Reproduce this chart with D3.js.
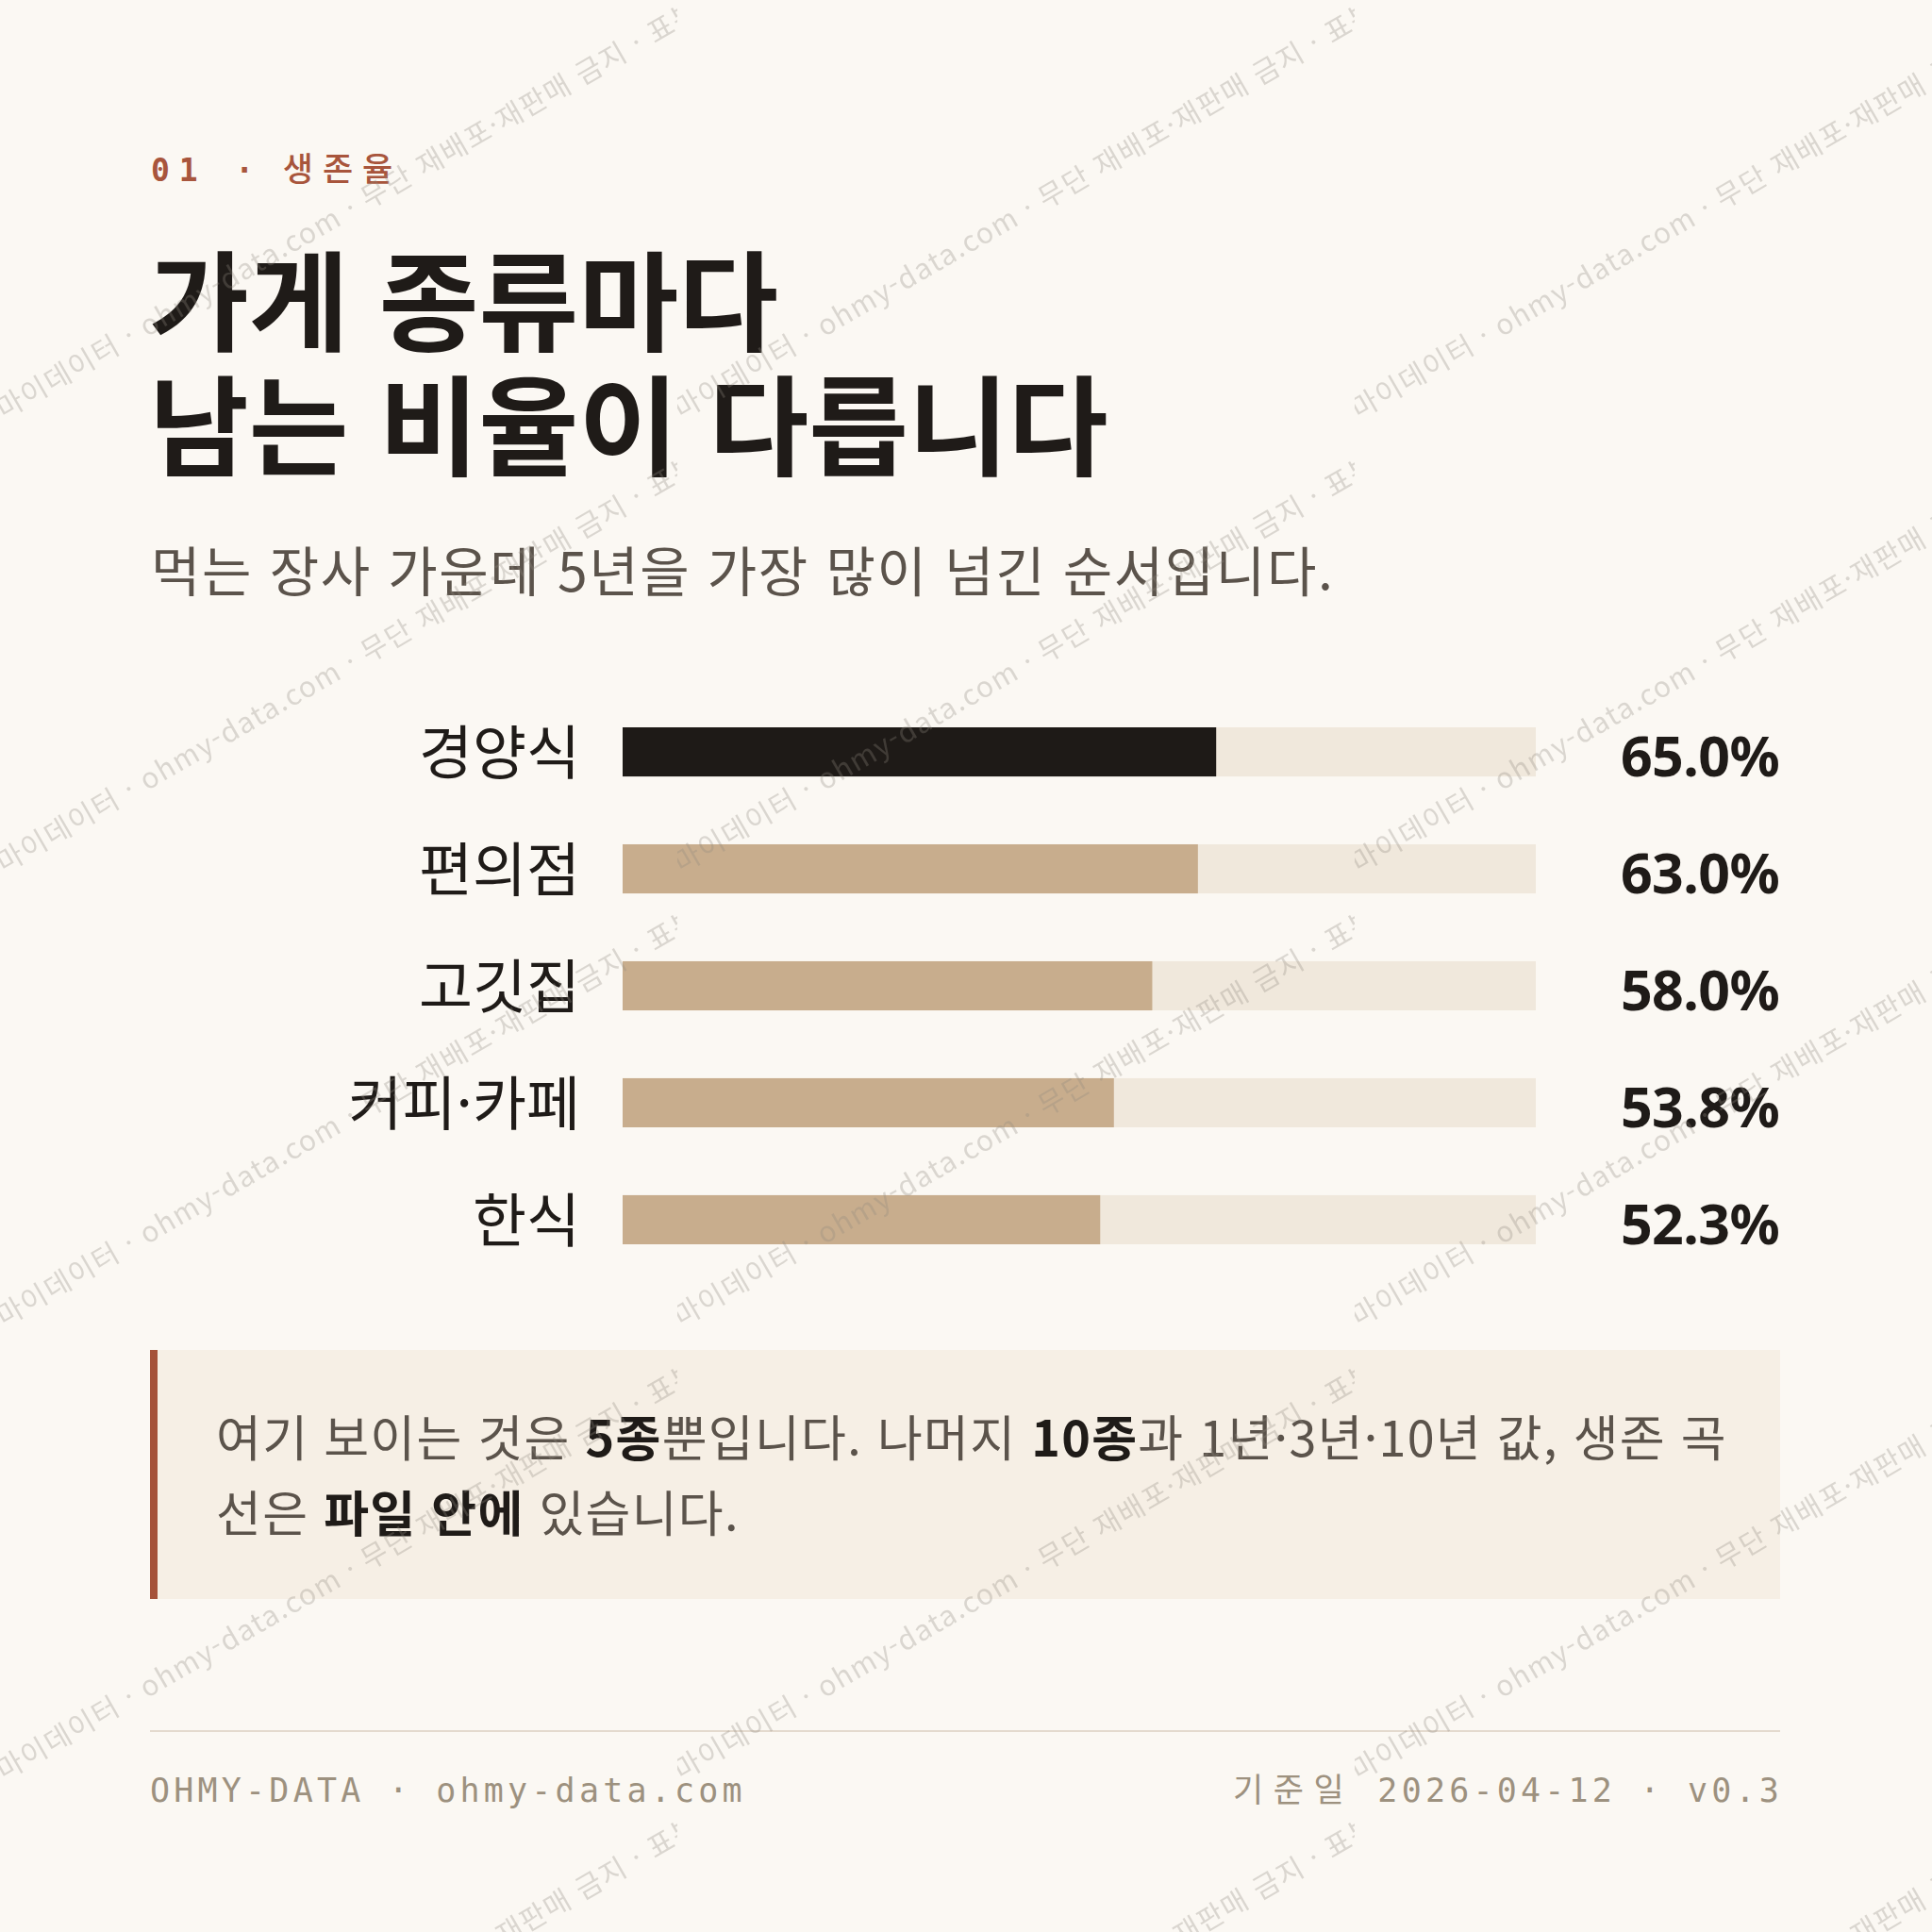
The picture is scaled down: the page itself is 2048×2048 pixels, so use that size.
<!DOCTYPE html>
<html lang="ko">
<head>
<meta charset="utf-8">
<title>생존율</title>
<script src="https://cdn.jsdelivr.net/npm/d3@7"></script>
<style>
  html, body { margin: 0; padding: 0; background: #fbf8f3; }
  svg { display: block; }
</style>
</head>
<body>
<div id="chart"></div>
<script>
// data
const categories = ["경양식", "편의점", "고깃집", "커피·카페", "한식"];
const rates = [65.0, 63.0, 58.0, 53.8, 52.3];
const highlight = "경양식";

const kicker = "01 · ";
const kickerTopic = "생존율";
const titleLines = ["가게 종류마다", "남는 비율이 다릅니다"];
const subtitle = "먹는 장사 가운데 5년을 가장 많이 넘긴 순서입니다.";
// callout lines, [text, bold?]
const noteLines = [
  [["여기 보이는 것은 ", false], ["5종", true], ["뿐입니다. 나머지 ", false], ["10종", true], ["과 1년·3년·10년 값, 생존 곡", false]],
  [["선은 ", false], ["파일 안에", true], [" 있습니다.", false]]
];
const footLeft = "OHMY-DATA · ohmy-data.com";
const footDateLabel = "기준일";
const footRight = " 2026-04-12 · v0.3";
const watermark = "마이데이터 · ohmy-data.com · 무단 재배포·재판매 금지 · 표본 데이터";

const W = 2048, H = 2048;
const sans = "'Noto Sans CJK KR', 'Noto Sans', sans-serif";
const latin = "'Noto Sans', 'Noto Sans CJK KR', sans-serif";
const mono = "'DejaVu Sans Mono', 'Liberation Mono', 'Noto Sans CJK KR', monospace";

const svg = d3.select("#chart").append("svg")
  .attr("width", W).attr("height", H);

svg.append("rect").attr("width", W).attr("height", H).attr("fill", "#fbf8f3");

// header
const kick = svg.append("text")
  .attr("x", 160).attr("y", 192)
  .attr("font-family", mono).attr("font-size", 33)
  .attr("letter-spacing", "0.3em")
  .attr("fill", "#a8553c");
kick.append("tspan").attr("font-weight", 700).text(kicker);
kick.append("tspan").attr("font-weight", 500)
  .attr("font-size", 35).attr("dx", -9)
  .text(kickerTopic);

svg.append("g").selectAll("text")
  .data(titleLines).enter().append("text")
    .attr("x", 158)
    .attr("y", (d, i) => 363 + i * 132)
    .attr("font-family", sans).attr("font-weight", 700)
    .attr("font-size", 115)
    .attr("fill", "#1f1b18")
    .text(d => d);

svg.append("text")
  .attr("x", 160).attr("y", 627)
  .attr("font-family", sans).attr("font-size", 57)
  .attr("letter-spacing", 1.6)
  .attr("fill", "#5b534b")
  .text(subtitle);

// bars
const x = d3.scaleLinear().domain([0, 100]).range([660, 1628]);
const y = d3.scaleBand().domain(categories).range([771, 1319])
  .paddingInner(0.58).paddingOuter(0);

const rows = svg.append("g").selectAll("g")
  .data(categories.map((c, i) => ({ cat: c, value: rates[i] })))
  .enter().append("g");

rows.append("rect")
  .attr("x", x(0)).attr("y", d => y(d.cat))
  .attr("width", x(100) - x(0)).attr("height", y.bandwidth())
  .attr("fill", "#f0e8dc");

rows.append("rect")
  .attr("x", x(0)).attr("y", d => y(d.cat))
  .attr("width", d => x(d.value) - x(0)).attr("height", y.bandwidth())
  .attr("fill", d => d.cat == highlight ? "#1e1a17" : "#c8ad8d");

rows.append("text")
  .attr("x", 615).attr("y", d => y(d.cat) + y.bandwidth() / 2 + 24)
  .attr("text-anchor", "end")
  .attr("font-family", sans).attr("font-size", 62)
  .attr("fill", "#1f1b18")
  .text(d => d.cat);

rows.append("text")
  .attr("x", 1886).attr("y", d => y(d.cat) + y.bandwidth() / 2 + 26)
  .attr("text-anchor", "end")
  .attr("font-family", latin).attr("font-weight", 700).attr("font-size", 59)
  .attr("letter-spacing", -0.6)
  .attr("fill", "#1f1b18")
  .text(d => d3.format(".1f")(d.value) + "%");

// callout
svg.append("rect")
  .attr("x", 159).attr("y", 1431).attr("width", 1728).attr("height", 264)
  .attr("fill", "#f6efe5");
svg.append("rect")
  .attr("x", 159).attr("y", 1431).attr("width", 8).attr("height", 264)
  .attr("fill", "#a5523a");

const note = svg.append("g").selectAll("text")
  .data(noteLines).enter().append("text")
    .attr("x", 229)
    .attr("y", (d, i) => 1544 + i * 80)
    .attr("font-family", sans).attr("font-size", 52)
    .attr("letter-spacing", 1.3)
    .attr("fill", "#5b534b");
note.selectAll("tspan")
  .data(d => d).enter().append("tspan")
    .attr("font-weight", d => d[1] ? 700 : 400)
    .attr("fill", d => d[1] ? "#1f1b18" : "#5b534b")
    .text(d => d[0]);

// footer
svg.append("line")
  .attr("x1", 159).attr("x2", 1887).attr("y1", 1835).attr("y2", 1835)
  .attr("stroke", "#e4dace").attr("stroke-width", 2);

svg.append("text")
  .attr("x", 159).attr("y", 1910)
  .attr("font-family", mono).attr("font-size", 35)
  .attr("letter-spacing", 4.2)
  .attr("fill", "#9d917f")
  .text(footLeft);

const fr = svg.append("text")
  .attr("x", 1890).attr("y", 1910)
  .attr("text-anchor", "end")
  .attr("font-family", mono).attr("font-size", 35)
  .attr("fill", "#9d917f");
fr.append("tspan").attr("letter-spacing", 10.5).text(footDateLabel);
fr.append("tspan").attr("letter-spacing", 4.2).text(footRight);

// watermark tiles on top
const pat = svg.append("defs").append("pattern")
  .attr("id", "wm").attr("patternUnits", "userSpaceOnUse")
  .attr("width", 718).attr("height", 481);
pat.append("text")
  .attr("transform", "translate(4,445) rotate(-30)")
  .attr("font-family", sans).attr("font-size", 30)
  .attr("letter-spacing", 1.5)
  .attr("fill", "#8f8880")
  .attr("fill-opacity", 0.3)
  .text(watermark);

svg.append("rect")
  .attr("width", W).attr("height", H)
  .attr("fill", "url(#wm)")
  .style("pointer-events", "none");
</script>
</body>
</html>
